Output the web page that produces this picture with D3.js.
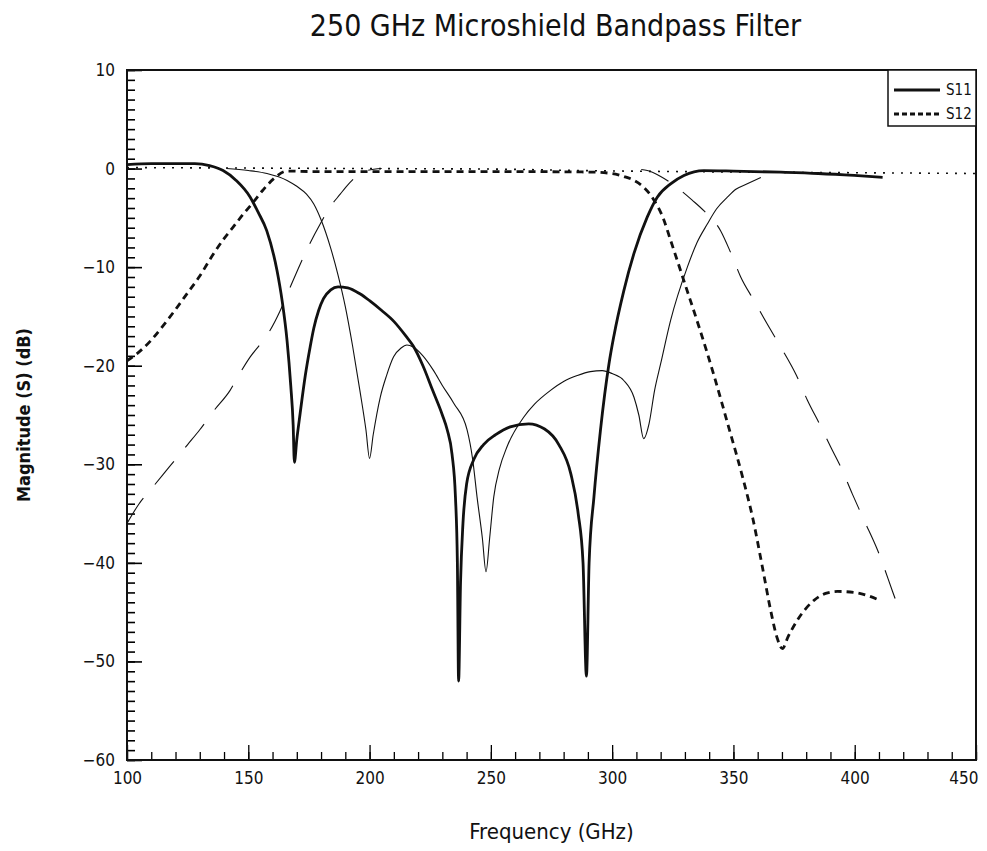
<!DOCTYPE html>
<html>
<head>
<meta charset="utf-8">
<script src="https://cdn.jsdelivr.net/npm/d3@7"></script>
<style>
  body { margin: 0; background: #fff; }
  svg text { font-family: 'Liberation Sans Narrow', 'DejaVu Sans Condensed', 'DejaVu Sans', sans-serif; fill: #111; }
</style>
</head>
<body>
<div id="chart"></div>
<script>
// Thick curves (design 1)
const s11Freq = [100, 110, 120, 128, 134, 139.6, 145, 150.8, 154, 157.6, 161.8, 164, 166, 167.5, 168.5, 169, 170, 171.4, 173.5, 175.5, 177, 179, 181, 184, 187, 191, 196, 200, 205, 210, 215, 218, 222, 226, 230, 232, 234, 235.4, 236.2, 236.7, 237.5, 238.5, 240, 243, 247, 252, 258, 265.6, 272, 278, 283, 286, 288, 289.4, 290.5, 292.5, 295.2, 298.7, 300.7, 304.8, 309, 314.5, 318.6, 324.1, 329.6, 337.8, 350, 369.5, 385, 399.8, 411.5];
const s11Db = [0.4, 0.5, 0.5, 0.5, 0.3, -0.2, -1.2, -2.9, -4.4, -6.3, -10.3, -13.5, -17.5, -22, -26, -29.8, -27.5, -24.8, -21, -18.1, -16.2, -14.4, -13.2, -12.3, -12, -12.1, -12.7, -13.4, -14.4, -15.5, -17, -18, -20, -22.5, -25, -26.5, -29, -33.3, -40, -52, -42, -36, -32, -29.5, -28, -27, -26.2, -25.9, -26.4, -28, -31, -35, -40, -51.5, -40, -33.3, -26.5, -19.8, -17, -12.4, -8.6, -4.9, -2.9, -1.55, -0.7, -0.2, -0.25, -0.37, -0.5, -0.7, -0.9];

const s12Freq = [100, 105, 110, 115, 120, 125, 130, 135, 140, 143.9, 148, 152.1, 156, 160.4, 165.9, 175, 200, 250, 290, 300, 304.8, 309, 313, 317, 321, 324, 330, 336, 342, 348, 354, 358, 362, 365.5, 368, 370.2, 372.5, 376.4, 383.2, 388, 392.9, 399.8, 405, 409.4];
const s12Db = [-19.5, -18.6, -17.4, -15.9, -14.3, -12.6, -10.9, -8.9, -7.1, -5.9, -4.6, -3.4, -2.2, -1.05, -0.25, -0.3, -0.3, -0.3, -0.35, -0.5, -0.8, -1.2, -1.9, -3.1, -5, -7.2, -11.7, -16.2, -21, -26.2, -31.5, -35.5, -40.5, -45, -47.6, -48.7, -47.5, -45.8, -43.8, -43.1, -42.9, -43, -43.3, -43.7];

// Thin curves (design 2)
const s11bFreq = [141, 150, 157.7, 166, 170, 174, 177, 180, 184, 187, 190, 193, 196, 198.5, 200, 201.5, 204.4, 207, 209.9, 213, 215.4, 218, 222, 226.4, 230, 234.7, 240.2, 242.5, 244.3, 246.5, 248, 249.5, 251.2, 253.5, 256.7, 263.6, 268, 274.6, 280, 285.6, 291, 295.9, 300, 304.8, 309, 311, 313, 315.2, 317.5, 320, 324.1, 331, 335, 339.3, 343, 347.5, 351, 355.7, 361.3];
const s11bDb = [0, -0.2, -0.5, -1.2, -1.8, -2.6, -3.6, -5.2, -8.1, -10.8, -14, -18, -22.5, -26.5, -29.4, -27, -23.2, -21, -19.1, -18.2, -17.9, -18.1, -19, -20.5, -22, -23.8, -26.5, -29.5, -33.3, -37.5, -40.9, -37.5, -33.3, -30.5, -28.2, -25.2, -23.9, -22.5, -21.6, -21, -20.6, -20.5, -20.8, -21.5, -23.2, -25, -27.4, -25.9, -22.5, -19.8, -15.4, -10, -7.5, -5.6, -4.1, -2.9, -2.1, -1.55, -0.9];

// long-dash S12, low and high skirt (NaN = gap)
const s12bFreq = [100, 105, 110, 115, 120, 125, 130, 136, 142.5, 146, 150.8, 155, 159, 163, 167, 171.4, 175, 179.7, 184, 187.9, 190.5, 193.4, 196, 198.9, 205, 260, 312, 314.5, 320, 328.2, 333, 337.9, 344.7, 349, 353, 358.5, 364, 369.5, 376, 380.5, 386.1, 390, 394.3, 399, 403.9, 409.4, 415.6, 417.5];
const s12bDb = [-36, -34, -32.5, -31, -29.5, -28, -26.5, -24.5, -22.5, -21, -19.1, -17.8, -16.4, -14.5, -12.2, -9.7, -7.8, -5.6, -3.8, -2.6, -1.8, -1.05, -0.5, -0.2, 0, NaN, -0.1, -0.2, -0.8, -2.2, -3.2, -4.3, -6.3, -8.6, -11, -13.4, -15.8, -18.1, -21, -23.5, -26.2, -28.2, -30.3, -33, -35.7, -38.7, -42.9, -44.2];

// dotted near-0 dB trace
const refFreq = [100, 150, 200, 250, 287, 350, 400, 450];
const refDb = [0.1, 0.05, 0, -0.05, -0.2, -0.35, -0.42, -0.5];

const xTicks = [100, 150, 200, 250, 300, 350, 400, 450];
const yTicks = [10, 0, -10, -20, -30, -40, -50, -60];
const legendLabels = ["S11", "S12"];

function zip(fs, vs) {
    return fs.map((f, i) => ({ f: f, v: vs[i] }));
}

function createChart() {
    const margin = { top: 70, right: 11, bottom: 91, left: 127 };
    const W = 987, H = 851;
    const width = W - margin.left - margin.right;
    const height = H - margin.top - margin.bottom;

    const svg = d3.select("#chart").append("svg")
        .attr("width", W)
        .attr("height", H);

    const g = svg.append("g")
        .attr("transform", `translate(${margin.left},${margin.top})`);

    const x = d3.scaleLinear().domain([100, 450]).range([0, width]);
    const y = d3.scaleLinear().domain([-60, 10]).range([height, 0]);

    // minor ticks (inward)
    g.append("g")
        .call(d3.axisLeft(y).tickValues(d3.range(-60, 11, 1)).tickSize(-8).tickFormat(""))
        .call(a => a.select(".domain").remove())
        .selectAll("line").attr("stroke-width", 1.6);
    g.append("g")
        .call(d3.axisLeft(y).tickValues(yTicks).tickSize(-15).tickPadding(12).tickFormat(d => d < 0 ? "\u2212" + Math.abs(d) : d))
        .call(a => a.select(".domain").remove())
        .call(a => a.selectAll("text").attr("font-size", 17))
        .selectAll("line").attr("stroke-width", 1.6);

    g.append("g")
        .attr("transform", `translate(0,${height})`)
        .call(d3.axisBottom(x).tickValues(d3.range(100, 451, 10)).tickSize(-8).tickFormat(""))
        .call(a => a.select(".domain").remove())
        .selectAll("line").attr("stroke-width", 1.3);
    g.append("g")
        .attr("transform", `translate(0,${height})`)
        .call(d3.axisBottom(x).tickValues(xTicks).tickSize(-15).tickPadding(12))
        .call(a => a.select(".domain").remove())
        .call(a => a.selectAll("text").attr("font-size", 17)
            .filter(d => d === 450).attr("text-anchor", "end").attr("dx", 2))
        .selectAll("line").attr("stroke-width", 1.3);

    // frame
    g.append("rect")
        .attr("width", width)
        .attr("height", height)
        .attr("fill", "none")
        .attr("stroke", "#111")
        .attr("stroke-width", 2);

    const line = d3.line()
        .defined(d => !isNaN(d.v))
        .x(d => x(d.f))
        .y(d => y(d.v))
        .curve(d3.curveMonotoneX);

    const series = [
        { data: zip(refFreq, refDb), w: 1.6, dash: "2,7" },
        { data: zip(s12bFreq, s12bDb), w: 1.1, dash: "30,18" },
        { data: zip(s11bFreq, s11bDb), w: 1.1, dash: null },
        { data: zip(s12Freq, s12Db), w: 2.8, dash: "7,5" },
        { data: zip(s11Freq, s11Db), w: 2.8, dash: null }
    ];

    series.forEach(s => {
        g.append("path")
            .datum(s.data)
            .attr("fill", "none")
            .attr("stroke", "#111")
            .attr("stroke-width", s.w)
            .attr("stroke-dasharray", s.dash)
            .attr("d", line);
    });

    // legend
    const lg = g.append("g").attr("transform", `translate(${width - 88},0)`);
    lg.append("rect")
        .attr("width", 88)
        .attr("height", 56)
        .attr("fill", "#fff")
        .attr("stroke", "#111")
        .attr("stroke-width", 1.5);
    legendLabels.forEach((lab, i) => {
        const ly = 20 + i * 24;
        lg.append("line")
            .attr("x1", 6).attr("x2", 52)
            .attr("y1", ly).attr("y2", ly)
            .attr("stroke", "#111")
            .attr("stroke-width", 2.8)
            .attr("stroke-dasharray", i === 0 ? null : "5,3");
        lg.append("text")
            .attr("x", 58)
            .attr("y", ly + 5)
            .attr("font-size", 15)
            .text(lab);
    });

    // titles
    svg.append("text")
        .attr("x", margin.left + width / 2 + 4)
        .attr("y", 36)
        .attr("text-anchor", "middle")
        .attr("font-size", 30)
        .text("250 GHz Microshield Bandpass Filter");

    svg.append("text")
        .attr("x", margin.left + width / 2)
        .attr("y", 839)
        .attr("text-anchor", "middle")
        .attr("font-size", 22)
        .text("Frequency (GHz)");

    svg.append("text")
        .attr("transform", `translate(30,${margin.top + height / 2}) rotate(-90)`)
        .attr("text-anchor", "middle")
        .attr("font-size", 18)
        .attr("font-weight", "bold")
        .text("Magnitude (S) (dB)");
}

createChart();
</script>
</body>
</html>
